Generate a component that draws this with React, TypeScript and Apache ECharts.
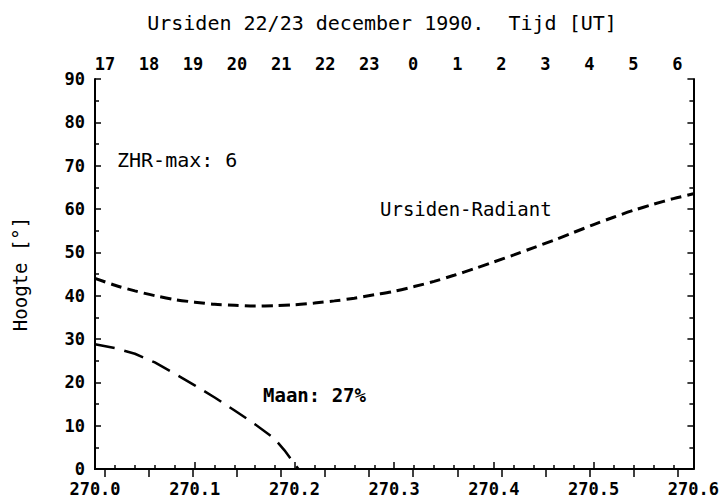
import React, { useEffect, useRef } from "react";
import * as echarts from "echarts";

// Solar longitude (deg) sample points
const longitudes = [
  270.0, 270.02, 270.04, 270.06, 270.08, 270.1, 270.12, 270.14, 270.16, 270.18,
  270.2, 270.22, 270.24, 270.26, 270.28, 270.3, 270.32, 270.34, 270.36, 270.38,
  270.4, 270.42, 270.44, 270.46, 270.48, 270.5, 270.52, 270.54, 270.56, 270.58, 270.6,
];
// Altitude of the Ursid radiant (deg)
const radiantAltitude = [
  44.0, 42.4, 41.1, 40.0, 39.1, 38.5, 38.0, 37.8, 37.6, 37.7,
  37.9, 38.3, 38.8, 39.4, 40.2, 41.0, 42.1, 43.3, 44.7, 46.2,
  47.8, 49.4, 51.1, 52.8, 54.6, 56.4, 58.1, 59.7, 61.1, 62.4, 63.5,
];
// Moon altitude until moonset
const moonLongitudes = [
  270.0, 270.02, 270.04, 270.06, 270.08, 270.1, 270.12, 270.14, 270.16, 270.18, 270.19, 270.2, 270.204,
];
const moonAltitude = [28.8, 27.9, 26.6, 24.6, 22.0, 19.3, 16.5, 13.5, 10.4, 7.0, 4.3, 1.2, 0];

// Top axis: UT hours (continuous hour count from 22 dec 0h) and their labels
const hourTicks = [17, 18, 19, 20, 21, 22, 23, 24, 25, 26, 27, 28, 29, 30];
const hourLabels = ["17", "18", "19", "20", "21", "22", "23", "0", "1", "2", "3", "4", "5", "6"];
const hourAxisMin = 16.773;
const hourAxisMax = 30.363;

const titleText = "Ursiden 22/23 december 1990.\u00a0 Tijd [UT]";
const yAxisName = "Hoogte [°]";
const annotations = ["ZHR-max: 6", "Ursiden-Radiant", "Maan: 27%"];

const FONT = "'DejaVu Sans Mono', monospace";

export default function App() {
  const ref = useRef<HTMLDivElement>(null);
  useEffect(() => {
    const chart = echarts.init(ref.current!, null, { renderer: "svg" });
    const axisLine = { show: true, lineStyle: { color: "#000", width: 2 } };
    const labelStyle = {
      color: "#000",
      fontFamily: FONT,
      fontWeight: "bold" as const,
      fontSize: 17,
    };
    chart.setOption({
      animation: false,
      backgroundColor: "#fff",
      grid: { left: 95, right: 28, top: 79, bottom: 32, containLabel: false },
      xAxis: [
        {
          type: "value",
          position: "bottom",
          min: 270,
          max: 270.6,
          interval: 0.1,
          axisLine,
          axisTick: { show: true, inside: true, length: 7, lineStyle: { color: "#000", width: 1.5 } },
          minorTick: { show: true, splitNumber: 5, length: 4, lineStyle: { color: "#000", width: 1.5 } },
          splitLine: { show: false },
          axisLabel: {
            ...labelStyle,
            margin: 11,
            showMinLabel: true,
            showMaxLabel: true,
            formatter: (v: number) => v.toFixed(1),
          },
        },
        {
          type: "value",
          position: "top",
          min: hourAxisMin,
          max: hourAxisMax,
          axisLine,
          axisTick: {
            show: true,
            inside: true,
            length: 8,
            customValues: hourTicks,
            lineStyle: { color: "#000", width: 1.5 },
          },
          splitLine: { show: false },
          axisLabel: {
            ...labelStyle,
            margin: 7,
            customValues: hourTicks,
            formatter: (v: number) => hourLabels[hourTicks.indexOf(Math.round(v))] ?? "",
          },
        },
      ],
      yAxis: [
        {
          type: "value",
          position: "left",
          min: 0,
          max: 90,
          interval: 10,
          name: yAxisName,
          nameLocation: "middle",
          nameRotate: 90,
          nameGap: 66,
          nameTextStyle: { color: "#000", fontFamily: FONT, fontSize: 19 },
          axisLine,
          axisTick: { show: true, inside: true, length: 6, lineStyle: { color: "#000", width: 1.5 } },
          minorTick: { show: true, splitNumber: 2, length: 4, lineStyle: { color: "#000", width: 1.5 } },
          splitLine: { show: false },
          axisLabel: { ...labelStyle, margin: 10 },
        },
        {
          type: "value",
          position: "right",
          min: 0,
          max: 90,
          interval: 10,
          axisLine,
          axisTick: { show: true, inside: true, length: 6, lineStyle: { color: "#000", width: 1.5 } },
          minorTick: { show: true, splitNumber: 2, length: 4, lineStyle: { color: "#000", width: 1.5 } },
          splitLine: { show: false },
          axisLabel: { show: false },
        },
      ],
      series: [
        {
          type: "line",
          name: "Ursiden-Radiant",
          xAxisIndex: 0,
          yAxisIndex: 0,
          data: longitudes.map((x, i) => [x, radiantAltitude[i]]),
          showSymbol: false,
          smooth: 0.3,
          lineStyle: { color: "#000", width: 3, type: [11, 6] },
        },
        {
          type: "line",
          name: "Maan",
          xAxisIndex: 0,
          yAxisIndex: 0,
          data: moonLongitudes.map((x, i) => [x, moonAltitude[i]]),
          showSymbol: false,
          smooth: false,
          lineStyle: { color: "#000", width: 2.5, type: [20, 10] },
        },
      ],
      graphic: [
        {
          type: "text",
          x: 382,
          y: 23,
          style: {
            text: titleText,
            font: `20px ${FONT}`,
            fill: "#000",
            textAlign: "center",
            textVerticalAlign: "middle",
          },
        },
        {
          type: "text",
          x: 117,
          y: 160,
          style: {
            text: annotations[0],
            font: `20px ${FONT}`,
            fill: "#000",
            textAlign: "left",
            textVerticalAlign: "middle",
          },
        },
        {
          type: "text",
          x: 380,
          y: 209,
          style: {
            text: annotations[1],
            font: `19px ${FONT}`,
            fill: "#000",
            textAlign: "left",
            textVerticalAlign: "middle",
          },
        },
        {
          type: "text",
          x: 263,
          y: 395,
          style: {
            text: annotations[2],
            font: `bold 19px ${FONT}`,
            fill: "#000",
            textAlign: "left",
            textVerticalAlign: "middle",
          },
        },
      ],
    });
    return () => chart.dispose();
  }, []);
  return (
    <div
      ref={ref}
      style={{ position: "fixed", left: 0, top: 0, width: 722, height: 501, background: "#fff" }}
    />
  );
}
